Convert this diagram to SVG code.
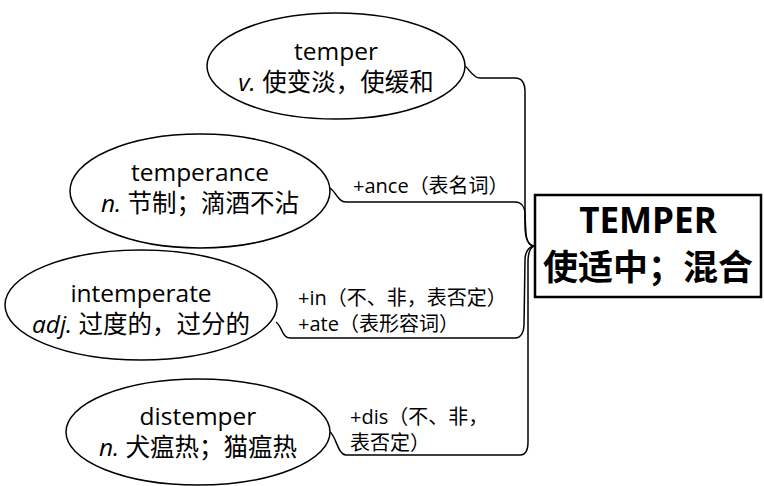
<svg xmlns="http://www.w3.org/2000/svg" width="764" height="486" viewBox="0 0 764 486">
<style>
.n{fill:#fff;stroke:#000;stroke-width:1.5}
.t{font-family:"Open Sans","Noto Sans CJK SC",sans-serif;font-size:24.5px;fill:#000;text-anchor:middle}
.l{font-family:"Open Sans","Noto Sans CJK SC",sans-serif;font-size:20px;fill:#000}
.i{font-style:italic}
.c{fill:none;stroke:#000;stroke-width:1.5}
.b{font-family:"Open Sans","Noto Sans CJK SC",sans-serif;font-size:35px;font-weight:bold;fill:#000;text-anchor:middle}
</style>
<rect width="764" height="486" fill="#fff"/>
<g id="connectors">
<path class="c" d="M465,66 C470,70 473,78 480,78 L515,78 C522,78 525,84 525,92 L525,225 C525,238 528,246 535,246"/>
<path class="c" d="M330,188 C336,192 338,202 346,202 L515,202 C522,202 525,208 525,215 L526,235 C527,242 530,246 535,246"/>
<path class="c" d="M276,322 C282,326 282,338 290,338 L515,338 C521,338 524,332 524,325 L525,260 C525,252 529,246 535,246"/>
<path class="c" d="M330,432 C336,436 338,455 346,455 L520,455 C526,455 528,450 528,442 L528,262 C528,252 531,246 535,246"/>
<text class="l" x="353" y="193">+ance（表名词）</text>
<text class="l" x="298" y="305">+in（不、非，表否定）</text>
<text class="l" x="298" y="331">+ate（表形容词）</text>
<text class="l" x="350" y="424">+dis（不、非，</text>
<text class="l" x="350" y="450">表否定）</text>
</g>
<g id="temper">
<ellipse class="n" cx="336" cy="66" rx="129" ry="53"/>
<text class="t" x="336" y="60">temper</text>
<text class="t" x="336" y="91"><tspan class="i">v.</tspan> 使变淡，使缓和</text>
</g>
<g id="temperance">
<ellipse class="n" cx="200" cy="191" rx="130" ry="57"/>
<text class="t" x="200" y="181">temperance</text>
<text class="t" x="200" y="212"><tspan class="i">n.</tspan> 节制；滴酒不沾</text>
</g>
<g id="intemperate">
<ellipse class="n" cx="141" cy="305" rx="136" ry="55"/>
<text class="t" x="141" y="302">intemperate</text>
<text class="t" x="141" y="333"><tspan class="i">adj.</tspan> 过度的，过分的</text>
</g>
<g id="distemper">
<ellipse class="n" cx="198" cy="432" rx="132" ry="53"/>
<text class="t" x="198" y="425">distemper</text>
<text class="t" x="198" y="456"><tspan class="i">n.</tspan> 犬瘟热；猫瘟热</text>
</g>
<g id="root">
<rect x="535" y="195" width="226" height="102" fill="#fff" stroke="#000" stroke-width="2.5"/>
<text class="b" x="648" y="233">TEMPER</text>
<text class="b" x="648" y="280">使适中；混合</text>
</g>
</svg>
